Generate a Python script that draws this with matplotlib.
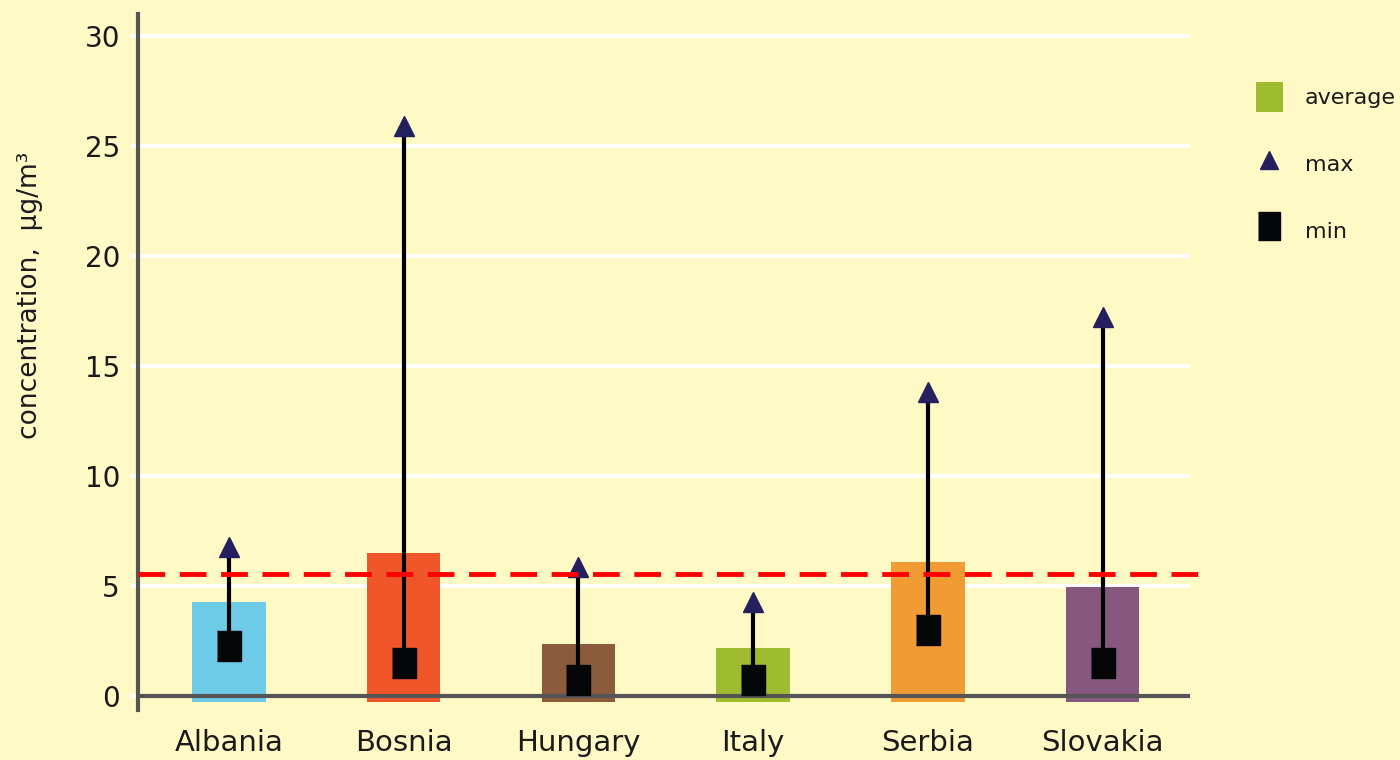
#!/usr/bin/env python3
"""Range chart: average / max / min concentration per country."""

import matplotlib
matplotlib.use('Agg')
import matplotlib.pyplot as plt
from matplotlib.lines import Line2D
from matplotlib.patches import Patch

# ---------------------------------------------------------------------------
# Data
# ---------------------------------------------------------------------------
countries = ['Albania', 'Bosnia', 'Hungary', 'Italy', 'Serbia', 'Slovakia']
avg_vals = [4.25, 6.5, 2.35, 2.15, 6.1, 4.95]
max_vals = [6.75, 25.9, 5.85, 4.25, 13.8, 17.2]
min_vals = [2.25, 1.5, 0.7, 0.7, 3.0, 1.5]
limit_val = 5.55

bar_colors = ['#6ECBE8', '#F0562A', '#8B5B3C', '#9FBB2F', '#F19B34', '#87587F']
bg = '#FFF9C6'

# ---------------------------------------------------------------------------
# Figure
# ---------------------------------------------------------------------------
plt.rcParams['font.family'] = ['DejaVu Sans']
fig = plt.figure(figsize=(14, 7.6), dpi=100, facecolor=bg)
ax = fig.add_axes([138 / 1400, 1 - 710 / 760, (1190 - 138) / 1400, (710 - 14) / 760])
ax.set_facecolor(bg)

x = list(range(len(countries)))
bar_base = -0.3
ax.bar(x, [v - bar_base for v in avg_vals], bottom=bar_base, width=0.42,
       color=bar_colors, zorder=2)

# whiskers min -> max
ax.vlines(x, min_vals, max_vals, color='black', lw=3, zorder=3)

rect_marker = [(-0.82, -1), (0.82, -1), (0.82, 1), (-0.82, 1)]
ax.plot(x, min_vals, linestyle='none', marker=rect_marker, ms=21,
        color='#050608', zorder=4)
ax.plot(x, max_vals, linestyle='none', marker='^', ms=15,
        color='#241F5E', zorder=4)

# limit line (runs a little past the plot area)
ax.plot([-0.52, 5.6], [limit_val, limit_val], color='#FF0000', lw=3.5,
        dashes=(5.5, 3), zorder=5, clip_on=False)

# grid + axes
for yv in range(5, 31, 5):
    ax.axhline(yv, color='white', lw=3, zorder=1)
ax.axhline(0, color='#555555', lw=3, zorder=3)

ax.set_xlim(-0.52, 5.5)
ax.set_ylim(-0.65, 31.0)
ax.set_yticks(range(0, 31, 5))
ax.set_xticks(x)
ax.set_xticklabels(countries)
for s in ['top', 'right', 'bottom']:
    ax.spines[s].set_visible(False)
ax.spines['left'].set_color('#555555')
ax.spines['left'].set_linewidth(3)
ax.tick_params(axis='x', length=0, pad=14, labelsize=21)
ax.tick_params(axis='y', length=5, width=3, color='white', pad=8, labelsize=20)
for lbl in ax.get_xticklabels() + ax.get_yticklabels():
    lbl.set_color('#1a1a1a')

fig.text(30 / 1400, 1 - 295 / 760, 'concentration,  μg/m³', rotation=90,
         ha='center', va='center', fontsize=19, color='#1a1a1a')

# legend
handles = [
    Patch(facecolor='#9FBB2F', edgecolor='none'),
    Line2D([], [], linestyle='none', marker='^', ms=13, color='#241F5E'),
    Line2D([], [], linestyle='none', marker=rect_marker, ms=20, color='#050608'),
]
leg = fig.legend(handles, ['average', 'max', 'min'], loc='upper left',
                 bbox_to_anchor=(1236 / 1400, 1 - 62 / 760), frameon=False,
                 fontsize=16, labelspacing=1.65, handlelength=1.2,
                 handleheight=1.7, handletextpad=1.0)
for t in leg.get_texts():
    t.set_color('#1a1a1a')

fig.savefig('out.png', dpi=100, facecolor=bg)
